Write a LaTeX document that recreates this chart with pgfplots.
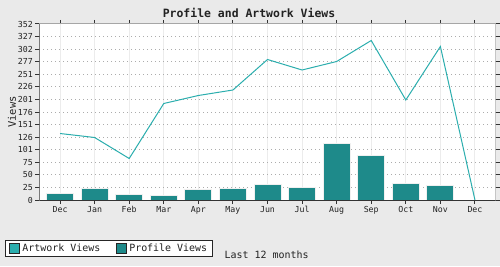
\documentclass[border=0pt]{standalone}
\usepackage{fontspec}
\setmainfont{DejaVu Sans Mono}
\usepackage{pgfplots}
\pgfplotsset{compat=1.18}
\definecolor{bgc}{HTML}{EAEAEA}
\definecolor{artc}{HTML}{2BAEAE}
\definecolor{profc}{HTML}{1E8A8A}
\definecolor{txt}{HTML}{222222}
\begin{document}
\begin{tikzpicture}[x=1bp,y=1bp]
\fill[bgc] (0,0) rectangle (500,266);
\node[font=\fontsize{11.5}{12}\selectfont\bfseries, text=txt] at (249,253.5) {Profile and Artwork Views};
\begin{axis}[
  at={(39.3bp,66bp)}, anchor=south west,
  scale only axis, width=456.4bp, height=176bp,
  xmin=-0.6, xmax=12.6, ymin=0, ymax=352,
  axis background/.style={fill=white},
  axis line style={draw=none},
  xtick={0,...,12},
  xticklabels={Dec,Jan,Feb,Mar,Apr,May,Jun,Jul,Aug,Sep,Oct,Nov,Dec},
  ytick={0,25.142857,50.285714,75.428571,100.571429,125.714286,150.857143,176,201.142857,226.285714,251.428571,276.571429,301.714286,326.857143,352},
  yticklabels={0,25,50,75,101,126,151,176,201,226,251,277,302,327,352},
  /pgf/number format/assume math mode=true,
  tick label style={font=\fontsize{8.3}{9}\selectfont, text=txt},
  xticklabel style={yshift=1bp},
  yticklabel style={xshift=1bp},
  tick align=outside, major tick length=4bp,
  tick style={draw=black!80, line width=1bp},
  xmajorgrids, ymajorgrids,
  x grid style={draw=gray!15, line width=1bp},
  y grid style={draw=gray!65, line width=1bp, dash pattern=on 1bp off 3bp},
  ylabel={Views},
  ylabel style={font=\fontsize{10.5}{11}\selectfont, text=txt, at={(axis description cs:-0.0598,0.5)}, anchor=center},
  xlabel={Last 12 months},
  xlabel style={font=\fontsize{10}{11}\selectfont, text=txt, at={(axis description cs:0.498,-0.3125)}, anchor=center},
  legend columns=2,
  legend style={at={(axis description cs:-0.0745,-0.322)}, anchor=south west,
    draw=black!85, line width=1bp, fill=white, font=\fontsize{10}{11}\selectfont,
    text=txt, inner xsep=3.5bp, inner ysep=1.5bp,
    /tikz/every even column/.append style={column sep=14bp}},
  legend cell align=left,
]
\addplot[color=artc, line width=1bp, mark=none,
  legend image code/.code={\draw[fill=artc,draw=black!85,line width=1bp] (0bp,-5bp) rectangle (10bp,5bp);}]
  coordinates {(0,133) (1,125) (2,83) (3,193) (4,209) (5,220) (6,281) (7,260) (8,277) (9,319) (10,200) (11,307) (12,0)};
\addlegendentry{Artwork Views}
\addplot[ybar, bar width=27bp, fill=profc, draw=gray!12, line width=1bp,
  legend image code/.code={\draw[fill=profc,draw=black!85,line width=1bp] (0bp,-5bp) rectangle (10bp,5bp);}]
  coordinates {(0,13) (1,23) (2,11) (3,9) (4,21) (5,23) (6,31) (7,25) (8,113) (9,89) (10,33) (11,29)};
\addlegendentry{Profile Views}
\draw[gray!70, line width=1bp] (rel axis cs:0,1) -- (rel axis cs:1,1) -- (rel axis cs:1,0);
\draw[black!80, line width=1bp] (rel axis cs:0,1) -- (rel axis cs:0,0) -- (rel axis cs:1,0);
\end{axis}
\pgfresetboundingbox
\useasboundingbox (0,0) rectangle (500,266);
\end{tikzpicture}
\end{document}
